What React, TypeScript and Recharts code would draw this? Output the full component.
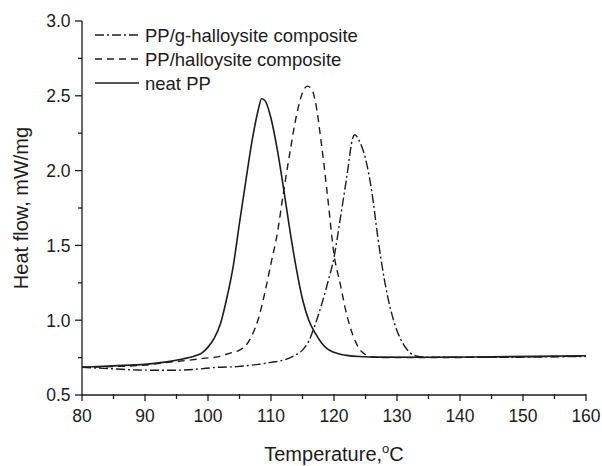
import React from 'react';
import { LineChart, Line, XAxis, YAxis } from 'recharts';

// Temperature (°C) and heat flow (mW/mg)
const neatT = [80, 85, 90, 94, 97, 98, 99, 100, 101, 102, 103, 104, 105, 106, 107, 108, 108.5, 109, 110, 111, 112, 113, 114, 115, 116, 117, 118, 119, 120, 121, 122, 124, 127, 135, 145, 160];
const neatV = [0.685, 0.695, 0.705, 0.725, 0.75, 0.762, 0.78, 0.82, 0.88, 0.98, 1.15, 1.36, 1.65, 1.93, 2.2, 2.41, 2.48, 2.47, 2.35, 2.14, 1.88, 1.6, 1.35, 1.14, 1.0, 0.915, 0.85, 0.806, 0.785, 0.772, 0.765, 0.757, 0.753, 0.752, 0.755, 0.762];

const hallT = [80, 85, 90, 94, 97, 99.3, 101.5, 103.5, 105, 106, 107, 108, 109, 110, 111, 112, 113, 114, 115, 115.75, 116.5, 117, 118, 119, 120, 121, 122, 123, 124, 125, 126, 128, 135, 145, 160];
const hallV = [0.685, 0.69, 0.7, 0.72, 0.733, 0.745, 0.755, 0.78, 0.8, 0.83, 0.9, 1.01, 1.18, 1.38, 1.58, 1.86, 2.12, 2.36, 2.52, 2.565, 2.54, 2.47, 2.18, 1.82, 1.44, 1.24, 1.04, 0.9, 0.81, 0.77, 0.755, 0.75, 0.75, 0.753, 0.76];

const gHallT = [80, 85, 89, 94, 98, 101.5, 104.6, 108, 110, 112.5, 114, 115, 116, 117, 118, 119, 120, 121, 122, 123, 123.3, 124, 125, 126, 127, 128, 129, 130, 131, 132, 133, 134, 136, 145, 160];
const gHallV = [0.685, 0.675, 0.667, 0.665, 0.672, 0.685, 0.69, 0.705, 0.718, 0.74, 0.77, 0.8, 0.86, 0.97, 1.1, 1.25, 1.42, 1.68, 1.95, 2.22, 2.24, 2.2, 2.08, 1.86, 1.54, 1.27, 1.07, 0.93, 0.84, 0.785, 0.762, 0.755, 0.752, 0.752, 0.758];

const xTicks = [80, 85, 90, 95, 100, 105, 110, 115, 120, 125, 130, 135, 140, 145, 150, 155, 160];
const yTicks = [0.5, 0.75, 1.0, 1.25, 1.5, 1.75, 2.0, 2.25, 2.5, 2.75, 3.0];

const seriesNames = ['PP/g-halloysite composite', 'PP/halloysite composite', 'neat PP'];
const xTitle = 'Temperature,';
const yTitle = 'Heat flow, mW/mg';

const toData = (t: number[], v: number[]) => t.map((x, i) => ({ t: x, v: v[i] }));
const neatData = toData(neatT, neatV);
const hallData = toData(hallT, hallV);
const gHallData = toData(gHallT, gHallV);

const FONT = '"Liberation Sans", Arial, Helvetica, sans-serif';
const INK = '#1c1c1c';
const DASH_DOT = '9 3 2 3';
const DASHED = '7 5';

const XTick = (props: any) => {
  const { x, y, payload } = props;
  const major = payload.value % 10 === 0;
  return (
    <g>
      <line x1={x} x2={x} y1={y - 1} y2={y + (major ? 6 : 4)} stroke={INK} strokeWidth={1.3} />
      {major && (
        <text x={x} y={y + 27} textAnchor="middle" fontSize={17.5} fill={INK} fontFamily={FONT}>
          {payload.value}
        </text>
      )}
    </g>
  );
};

const YTick = (props: any) => {
  const { x, y, payload } = props;
  const v = payload.value;
  const major = Math.abs(v * 2 - Math.round(v * 2)) < 1e-6;
  return (
    <g>
      <line x1={x} x2={x - (major ? 7 : 4)} y1={y} y2={y} stroke={INK} strokeWidth={1.3} />
      {major && (
        <text x={x - 11.5} y={y} dy="0.36em" textAnchor="end" fontSize={17.5} fill={INK} fontFamily={FONT}>
          {v.toFixed(1)}
        </text>
      )}
    </g>
  );
};

const XTitle = () => (
  <text x={334} y={461} textAnchor="middle" fontSize={20} fill={INK} fontFamily={FONT}>
    {xTitle}
    <tspan fontSize={13} dy={-8}>o</tspan>
    <tspan dy={8}>C</tspan>
  </text>
);

const YTitle = () => (
  <text x={0} y={0} transform="translate(28,208) rotate(-90)" textAnchor="middle" fontSize={20} fill={INK} fontFamily={FONT}>
    {yTitle}
  </text>
);

const LegendBox = () => {
  const dashes = [DASH_DOT, DASHED, undefined];
  return (
    <svg width={320} height={80} style={{ position: 'absolute', left: 95, top: 22 }}>
      {seriesNames.map((n, i) => (
        <g key={n}>
          <line x1={0} x2={44} y1={13 + i * 24} y2={13 + i * 24} stroke={INK} strokeWidth={1.5} strokeDasharray={dashes[i]} />
          <text x={50} y={13 + i * 24} dy="0.36em" fontSize={18.5} fill={INK} fontFamily={FONT}>{n}</text>
        </g>
      ))}
    </svg>
  );
};

export default function App() {
  return (
    <div style={{ position: 'absolute', left: 0, top: 0, width: 602, height: 466, background: '#fff' }}>
      <LineChart width={602} height={466} margin={{ top: 21, right: 16, left: 0, bottom: 0 }}>
        <XAxis
          dataKey="t"
          type="number"
          domain={[80, 160]}
          ticks={xTicks}
          interval={0}
          allowDuplicatedCategory={false}
          tickSize={0}
          tickMargin={0}
          tickLine={false}
          tick={<XTick />}
          axisLine={{ stroke: INK, strokeWidth: 1.3 }}
          height={71}
          label={<XTitle />}
        />
        <YAxis
          type="number"
          domain={[0.5, 3.0]}
          ticks={yTicks}
          interval={0}
          tickSize={0}
          tickMargin={0}
          tickLine={false}
          tick={<YTick />}
          axisLine={{ stroke: INK, strokeWidth: 1.3 }}
          width={82}
          label={<YTitle />}
        />
        <Line data={gHallData} dataKey="v" name={seriesNames[0]} type="monotone" stroke={INK} strokeWidth={1.4} strokeDasharray={DASH_DOT} dot={false} isAnimationActive={false} />
        <Line data={hallData} dataKey="v" name={seriesNames[1]} type="monotone" stroke={INK} strokeWidth={1.4} strokeDasharray={DASHED} dot={false} isAnimationActive={false} />
        <Line data={neatData} dataKey="v" name={seriesNames[2]} type="monotone" stroke={INK} strokeWidth={1.6} dot={false} isAnimationActive={false} />
      </LineChart>
      <LegendBox />
    </div>
  );
}
